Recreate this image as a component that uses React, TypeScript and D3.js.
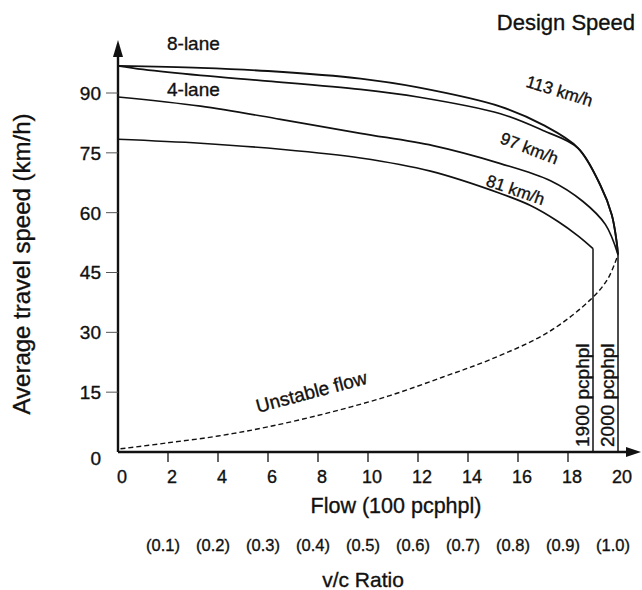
import React from "react";
import * as d3 from "d3";

// Flow axis (100 pcphpl) and speed axis (km/h)
const flowTicks = [0, 2, 4, 6, 8, 10, 12, 14, 16, 18, 20];
const speedTicks = [0, 15, 30, 45, 60, 75, 90];
const vcRatios = [0.1, 0.2, 0.3, 0.4, 0.5, 0.6, 0.7, 0.8, 0.9, 1.0];
const vcLabels = ["(0.1)", "(0.2)", "(0.3)", "(0.4)", "(0.5)", "(0.6)", "(0.7)", "(0.8)", "(0.9)", "(1.0)"];

// [flow (100 pcphpl), average travel speed (km/h)]
const eightLane113: [number, number][] = [
  [0, 96.8], [3.3, 96.3], [6, 95.5], [9.7, 93.6], [12, 91.4], [15.3, 86.6],
  [17, 82], [18.4, 76.2], [19.3, 66.8], [19.75, 59.5], [19.95, 52.5], [20, 49.5],
];
const fourLane113: [number, number][] = [
  [0, 96.8], [1, 95.9], [3.3, 94.4], [6, 93], [9.7, 90.9], [12, 89], [15.3, 84.8],
  [17, 80.6], [18.4, 76.2], [19.3, 66.8], [19.75, 59.5], [19.95, 52.5], [20, 49.5],
];
const speed97: [number, number][] = [
  [0, 89], [3.3, 86.7], [6.5, 83.4], [9.7, 79.9], [12.6, 76.8], [15.3, 72.3],
  [17.3, 68], [18.6, 62.8], [19.5, 57], [20, 49.5],
];
const speed81: [number, number][] = [
  [0, 78.4], [3.3, 77.4], [6.5, 75.9], [9.7, 73.7], [12.5, 70.4], [15.3, 64.8],
  [16.5, 61.8], [17.6, 57.8], [18.4, 54.2], [19, 51],
];
const unstableFlow: [number, number][] = [
  [0.1, 0.8], [2, 2.3], [4, 4], [6, 6.3], [8.4, 9.8], [10.8, 14], [13, 18.8],
  [14.9, 23.2], [17.2, 30], [18.9, 38.2], [19.6, 43.5], [20, 49.5],
];
const capacityLines: { flow: number; speed: number; label: string }[] = [
  { flow: 19, speed: 51, label: "1900 pcphpl" },
  { flow: 20, speed: 49.5, label: "2000 pcphpl" },
];

const FONT = "'Liberation Sans', Arial, Helvetica, sans-serif";
const INK = "#111";

// shared text style: a hairline outline gives the type a slightly heavier print weight
const textStyle = {
  fontFamily: FONT,
  fill: INK,
  stroke: INK,
  strokeWidth: 0.35,
} as const;

export default function App() {
  const x = d3.scaleLinear().domain([0, 20]).range([118, 618]);
  const y = d3.scaleLinear().domain([0, 90]).range([452, 93]);

  const line = d3
    .line<[number, number]>()
    .x((d) => x(d[0]))
    .y((d) => y(d[1]))
    .curve(d3.curveCatmullRom.alpha(0.5));

  const x0 = x(0);
  const y0 = y(0);

  // rotated text placed at a data-space anchor
  const rotLabel = (text: string, fx: number, sy: number, angle: number, size: number) => (
    <text
      key={text}
      transform={`translate(${x(fx)},${y(sy)}) rotate(${angle})`}
      fontSize={size}
      {...textStyle}
    >
      {text}
    </text>
  );

  return (
    <svg
      width={642}
      height={590}
      style={{ position: "absolute", left: 0, top: 0, background: "#fff" }}
    >
      <rect width={642} height={590} fill="#fff" />

      {/* speed-flow curves */}
      <g fill="none" stroke={INK} strokeWidth={1.7}>
        <path d={line(eightLane113) ?? ""} strokeWidth={1.9} />
        <path d={line(fourLane113) ?? ""} />
        <path d={line(speed97) ?? ""} />
        <path d={line(speed81) ?? ""} />
        <path d={line(unstableFlow) ?? ""} strokeDasharray="5,3" strokeWidth={1.4} />
        {capacityLines.map((c) => (
          <line key={c.label} x1={x(c.flow)} x2={x(c.flow)} y1={y(c.speed)} y2={y0} strokeWidth={1.5} />
        ))}
      </g>

      {/* axes */}
      <line x1={x0} x2={x0} y1={y0} y2={55} stroke={INK} strokeWidth={2.4} />
      <polygon points={`${x0},40 ${x0 - 5},57 ${x0 + 5},57`} fill={INK} />
      <line x1={x0} x2={633} y1={y0} y2={y0} stroke={INK} strokeWidth={2.6} />
      <polygon points={`641,${y0} 626,${y0 - 5} 626,${y0 + 5}`} fill={INK} />

      {/* y ticks */}
      {speedTicks.map((t) => (
        <g key={t}>
          {t > 0 && (
            <line x1={x0 - 12} x2={x0} y1={y(t)} y2={y(t)} stroke="#555" strokeWidth={1} />
          )}
          <text
            x={101}
            y={y(t) + (t === 0 ? 6 : 0)}
            dy="0.36em"
            textAnchor="end"
            fontSize={19}
            {...textStyle}
          >
            {t}
          </text>
        </g>
      ))}

      {/* x ticks */}
      {flowTicks.map((t) => (
        <g key={t}>
          {t > 0 && t < 20 && (
            <line x1={x(t)} x2={x(t)} y1={y0} y2={y0 + 10} stroke={INK} strokeWidth={1.3} />
          )}
          <text x={x(t) + 4} y={483} textAnchor="middle" fontSize={18} {...textStyle}>
            {t}
          </text>
        </g>
      ))}

      {/* v/c ratio row */}
      {vcRatios.map((r, i) => (
        <text key={r} x={x(r * 20) - 5} y={551} textAnchor="middle" fontSize={16.5} {...textStyle}>
          {vcLabels[i]}
        </text>
      ))}

      {/* axis titles */}
      <text x={396} y={513} textAnchor="middle" fontSize={21.5} {...textStyle}>
        Flow (100 pcphpl)
      </text>
      <text x={363} y={587} textAnchor="middle" fontSize={21} {...textStyle}>
        v/c Ratio
      </text>
      <text
        transform="translate(30,264) rotate(-90)"
        textAnchor="middle"
        fontSize={24}
        {...textStyle}
      >
        Average travel speed (km/h)
      </text>

      {/* annotations */}
      <text x={635} y={30} textAnchor="end" fontSize={22} {...textStyle}>
        Design Speed
      </text>
      <text x={167} y={50} fontSize={19} {...textStyle}>
        8-lane
      </text>
      <text x={167} y={96} fontSize={19} {...textStyle}>
        4-lane
      </text>
      {rotLabel("113 km/h", 16.28, 91.6, 17, 17)}
      {rotLabel("97 km/h", 15.24, 77.5, 21, 17)}
      {rotLabel("81 km/h", 14.68, 66.8, 19, 17)}
      {rotLabel("Unstable flow", 5.6, 9.8, -15, 19)}

      {capacityLines.map((c, i) => (
        <text
          key={c.label}
          transform={`translate(${i === 0 ? 589 : 614},447) rotate(-90)`}
          fontSize={19}
          {...textStyle}
        >
          {c.label}
        </text>
      ))}
    </svg>
  );
}
